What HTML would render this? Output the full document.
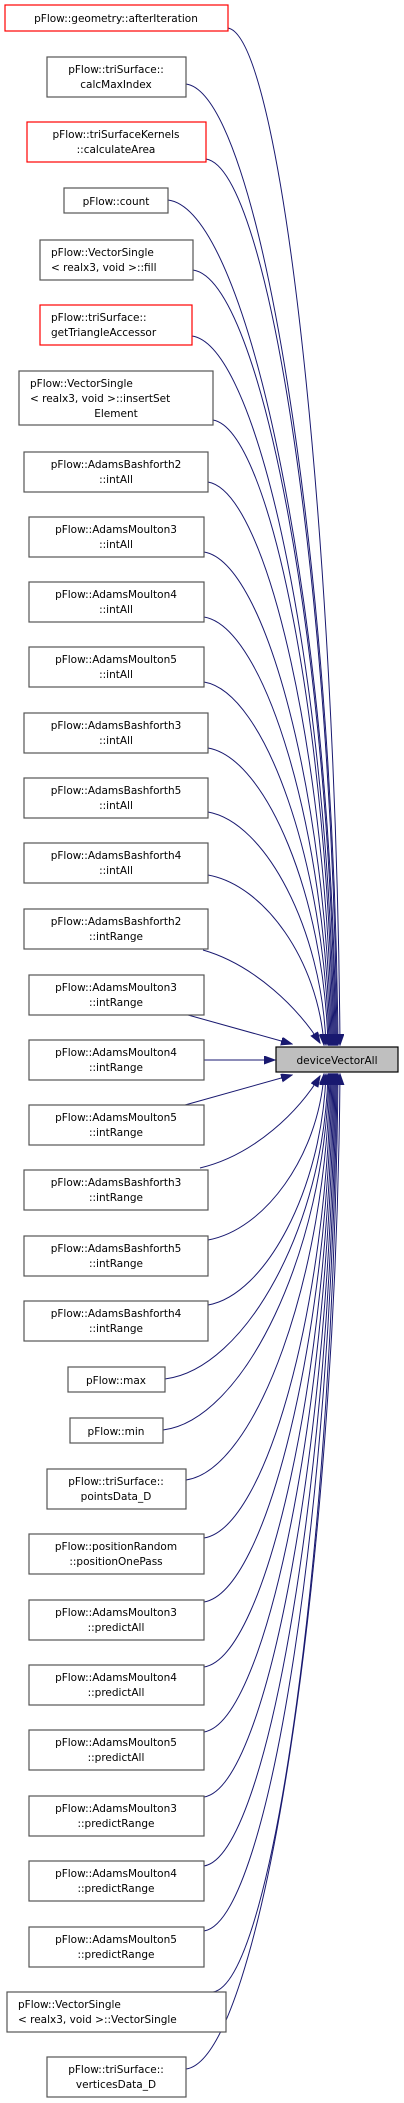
<!DOCTYPE html>
<html><head><meta charset="utf-8"><style>
html,body{margin:0;padding:0;background:#fff;}
svg{display:block;}
text{font-family:"DejaVu Sans","Liberation Sans",sans-serif;font-size:10.5px;fill:#000;}
.b{fill:#fff;stroke:#555;stroke-width:1.2;}
.r{fill:#fff;stroke:#f00;stroke-width:1.2;}
.e{fill:none;stroke:#191970;stroke-width:1;}
</style></head><body>
<svg width="404" height="2103" viewBox="0 0 404 2103" xmlns="http://www.w3.org/2000/svg">
<defs><marker id="a" markerUnits="userSpaceOnUse" markerWidth="12" markerHeight="9" refX="11" refY="4" orient="auto"><path d="M0,0 L11,4 L0,8 z" fill="#191970" stroke="#191970"/></marker></defs>
<g class="e" marker-end="url(#a)">
<path marker-end="url(#a)" d="M228,28 C282,38 336,537 340,1045"/>
<path marker-end="url(#a)" d="M186,84 C260,94 334,565 338,1045"/>
<path marker-end="url(#a)" d="M206,159 C270,169 333,602 337,1045"/>
<path marker-end="url(#a)" d="M168,200 C250,210 332,623 336,1045"/>
<path marker-end="url(#a)" d="M193,270 C262,280 331,658 335,1045"/>
<path marker-end="url(#a)" d="M192,336 C261,346 330,691 334,1045"/>
<path marker-end="url(#a)" d="M213,420 C271,430 329,733 333,1045"/>
<path marker-end="url(#a)" d="M208,482 C268,492 328,764 332,1045"/>
<path marker-end="url(#a)" d="M204,552 C266,562 327,799 331,1045"/>
<path marker-end="url(#a)" d="M204,617 C265,627 326,831 330,1045"/>
<path marker-end="url(#a)" d="M204,682 C265,692 325,864 329,1045"/>
<path marker-end="url(#a)" d="M208,748 C266,758 324,897 328,1045"/>
<path marker-end="url(#a)" d="M208,812 C265,822 322,929 326,1045"/>
<path marker-end="url(#a)" d="M208,875 C264,885 318,960 324,1045"/>
<path marker-end="url(#a)" d="M203,950 C255,965 300,1010 320,1043"/>
<path marker-end="url(#a)" d="M188,1015 L292,1044"/>
<path marker-end="url(#a)" d="M204,1060 L275,1060"/>
<path marker-end="url(#a)" d="M185,1105 L292,1075"/>
<path marker-end="url(#a)" d="M200,1168 C255,1155 300,1110 320,1076"/>
<path marker-end="url(#a)" d="M208,1240 C264,1230 318,1157 324,1074"/>
<path marker-end="url(#a)" d="M208,1305 C265,1295 322,1190 326,1074"/>
<path marker-end="url(#a)" d="M165,1379 C245,1369 324,1227 328,1074"/>
<path marker-end="url(#a)" d="M163,1430 C244,1420 325,1252 329,1074"/>
<path marker-end="url(#a)" d="M186,1480 C256,1470 326,1277 330,1074"/>
<path marker-end="url(#a)" d="M204,1538 C266,1528 327,1306 331,1074"/>
<path marker-end="url(#a)" d="M204,1602 C266,1592 328,1338 332,1074"/>
<path marker-end="url(#a)" d="M204,1667 C267,1657 329,1371 333,1074"/>
<path marker-end="url(#a)" d="M204,1732 C267,1722 330,1403 334,1074"/>
<path marker-end="url(#a)" d="M204,1797 C268,1787 331,1436 335,1074"/>
<path marker-end="url(#a)" d="M204,1866 C268,1856 332,1470 336,1074"/>
<path marker-end="url(#a)" d="M204,1931 C269,1921 333,1503 337,1074"/>
<path marker-end="url(#a)" d="M213,1992 C274,1982 334,1533 338,1074"/>
<path marker-end="url(#a)" d="M186,2069 C261,2059 336,1572 340,1074"/>
</g>

<rect x="276" y="1047" width="122" height="25" fill="#bfbfbf" stroke="#000" stroke-width="1.2"/>
<text x="337" y="1064" text-anchor="middle">deviceVectorAll</text>

<g text-anchor="middle">
<rect class="r" x="5" y="5" width="223" height="26"/><text x="116" y="22">pFlow::geometry::afterIteration</text>
<rect class="b" x="47" y="57" width="139" height="40"/><text x="116" y="73">pFlow::triSurface::</text><text x="116" y="88">calcMaxIndex</text>
<rect class="r" x="27" y="122" width="179" height="40"/><text x="116" y="138">pFlow::triSurfaceKernels</text><text x="116" y="153">::calculateArea</text>
<rect class="b" x="64" y="188" width="104" height="25"/><text x="116" y="205">pFlow::count</text>
<rect class="b" x="40" y="240" width="153" height="40"/><text x="51" y="256" text-anchor="start">pFlow::VectorSingle</text><text x="51" y="271" text-anchor="start">&lt; realx3, void &gt;::fill</text>
<rect class="r" x="40" y="305" width="152" height="40"/><text x="51" y="321" text-anchor="start">pFlow::triSurface::</text><text x="51" y="336" text-anchor="start">getTriangleAccessor</text>
<rect class="b" x="19" y="371" width="194" height="54"/><text x="30" y="387" text-anchor="start">pFlow::VectorSingle</text><text x="30" y="402" text-anchor="start">&lt; realx3, void &gt;::insertSet</text><text x="116" y="417">Element</text>

<rect class="b" x="24" y="452" width="184" height="40"/><text x="116" y="468">pFlow::AdamsBashforth2</text><text x="116" y="483">::intAll</text>
<rect class="b" x="29" y="517" width="175" height="40"/><text x="116" y="533">pFlow::AdamsMoulton3</text><text x="116" y="548">::intAll</text>
<rect class="b" x="29" y="582" width="175" height="40"/><text x="116" y="598">pFlow::AdamsMoulton4</text><text x="116" y="613">::intAll</text>
<rect class="b" x="29" y="647" width="175" height="40"/><text x="116" y="663">pFlow::AdamsMoulton5</text><text x="116" y="678">::intAll</text>
<rect class="b" x="24" y="713" width="184" height="40"/><text x="116" y="729">pFlow::AdamsBashforth3</text><text x="116" y="744">::intAll</text>
<rect class="b" x="24" y="778" width="184" height="40"/><text x="116" y="794">pFlow::AdamsBashforth5</text><text x="116" y="809">::intAll</text>
<rect class="b" x="24" y="843" width="184" height="40"/><text x="116" y="859">pFlow::AdamsBashforth4</text><text x="116" y="874">::intAll</text>
<rect class="b" x="24" y="909" width="184" height="40"/><text x="116" y="925">pFlow::AdamsBashforth2</text><text x="116" y="940">::intRange</text>
<rect class="b" x="29" y="975" width="175" height="40"/><text x="116" y="991">pFlow::AdamsMoulton3</text><text x="116" y="1006">::intRange</text>
<rect class="b" x="29" y="1040" width="175" height="40"/><text x="116" y="1056">pFlow::AdamsMoulton4</text><text x="116" y="1071">::intRange</text>
<rect class="b" x="29" y="1105" width="175" height="40"/><text x="116" y="1121">pFlow::AdamsMoulton5</text><text x="116" y="1136">::intRange</text>
<rect class="b" x="24" y="1170" width="184" height="40"/><text x="116" y="1186">pFlow::AdamsBashforth3</text><text x="116" y="1201">::intRange</text>
<rect class="b" x="24" y="1236" width="184" height="40"/><text x="116" y="1252">pFlow::AdamsBashforth5</text><text x="116" y="1267">::intRange</text>
<rect class="b" x="24" y="1301" width="184" height="40"/><text x="116" y="1317">pFlow::AdamsBashforth4</text><text x="116" y="1332">::intRange</text>
<rect class="b" x="68" y="1367" width="97" height="25"/><text x="116" y="1384">pFlow::max</text>
<rect class="b" x="70" y="1418" width="93" height="25"/><text x="116" y="1435">pFlow::min</text>
<rect class="b" x="47" y="1469" width="139" height="40"/><text x="116" y="1485">pFlow::triSurface::</text><text x="116" y="1500">pointsData_D</text>
<rect class="b" x="29" y="1534" width="175" height="40"/><text x="116" y="1550">pFlow::positionRandom</text><text x="116" y="1565">::positionOnePass</text>
<rect class="b" x="29" y="1600" width="175" height="40"/><text x="116" y="1616">pFlow::AdamsMoulton3</text><text x="116" y="1631">::predictAll</text>
<rect class="b" x="29" y="1665" width="175" height="40"/><text x="116" y="1681">pFlow::AdamsMoulton4</text><text x="116" y="1696">::predictAll</text>
<rect class="b" x="29" y="1730" width="175" height="40"/><text x="116" y="1746">pFlow::AdamsMoulton5</text><text x="116" y="1761">::predictAll</text>
<rect class="b" x="29" y="1796" width="175" height="40"/><text x="116" y="1812">pFlow::AdamsMoulton3</text><text x="116" y="1827">::predictRange</text>
<rect class="b" x="29" y="1861" width="175" height="40"/><text x="116" y="1877">pFlow::AdamsMoulton4</text><text x="116" y="1892">::predictRange</text>
<rect class="b" x="29" y="1927" width="175" height="40"/><text x="116" y="1943">pFlow::AdamsMoulton5</text><text x="116" y="1958">::predictRange</text>
<rect class="b" x="7" y="1992" width="219" height="40"/><text x="18" y="2008" text-anchor="start">pFlow::VectorSingle</text><text x="18" y="2023" text-anchor="start">&lt; realx3, void &gt;::VectorSingle</text>
<rect class="b" x="47" y="2057" width="139" height="40"/><text x="116" y="2073">pFlow::triSurface::</text><text x="116" y="2088">verticesData_D</text>
</g>
</svg>
</body></html>
